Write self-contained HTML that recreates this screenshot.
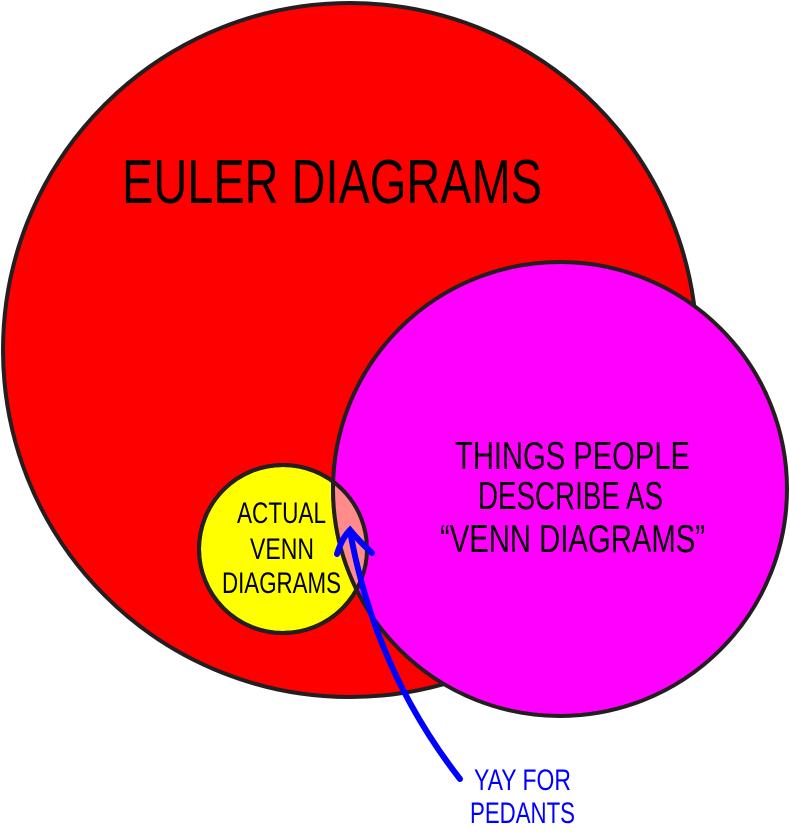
<!DOCTYPE html>
<html><head><meta charset="utf-8"><style>
html,body{margin:0;padding:0;background:#fff;}
svg{display:block}
text{font-family:"Liberation Sans Narrow","Liberation Sans",sans-serif;}
</style></head><body>
<svg width="790" height="834" viewBox="0 0 790 834" xmlns="http://www.w3.org/2000/svg">
<defs>
<clipPath id="cy"><circle cx="283" cy="549" r="84"/></clipPath>
</defs>
<circle cx="350" cy="350" r="347" fill="#ff0000" stroke="#231f20" stroke-width="4"/>
<circle cx="283" cy="549" r="84" fill="#ffff00" stroke="#231f20" stroke-width="4"/>
<circle cx="560" cy="489" r="227" fill="#ff00ff" stroke="#231f20" stroke-width="4"/>
<circle cx="560" cy="489" r="227" fill="#ff8b8b" clip-path="url(#cy)"/>
<circle cx="283" cy="549" r="84" fill="none" stroke="#231f20" stroke-width="4" clip-path="none"/>
<g clip-path="url(#cy)"><circle cx="560" cy="489" r="227" fill="none" stroke="#231f20" stroke-width="4"/></g>
<text x="122" y="203" font-size="62" textLength="420" lengthAdjust="spacingAndGlyphs" fill="#000">EULER DIAGRAMS</text>
<g font-size="39" fill="#000">
<text x="455" y="469" textLength="235" lengthAdjust="spacingAndGlyphs">THINGS PEOPLE</text>
<text x="478" y="509" textLength="185" lengthAdjust="spacingAndGlyphs">DESCRIBE AS</text>
<text x="440" y="552" textLength="265" lengthAdjust="spacingAndGlyphs">“VENN DIAGRAMS”</text>
</g>
<g font-size="30" fill="#000">
<text x="237" y="523" textLength="89" lengthAdjust="spacingAndGlyphs">ACTUAL</text>
<text x="250" y="559" textLength="64" lengthAdjust="spacingAndGlyphs">VENN</text>
<text x="222" y="593" textLength="119" lengthAdjust="spacingAndGlyphs">DIAGRAMS</text>
</g>
<g fill="none" stroke="#0000ff" stroke-width="6" stroke-linecap="round">
<path d="M460,779 Q375,670 350,531"/>
<path d="M337,554 Q342,538 350,530 Q358,540 372,553"/>
</g>
<g font-size="30" fill="#0000ff">
<text x="474" y="790" textLength="97" lengthAdjust="spacingAndGlyphs">YAY FOR</text>
<text x="470" y="823" textLength="105" lengthAdjust="spacingAndGlyphs">PEDANTS</text>
</g>
</svg>
</body></html>
